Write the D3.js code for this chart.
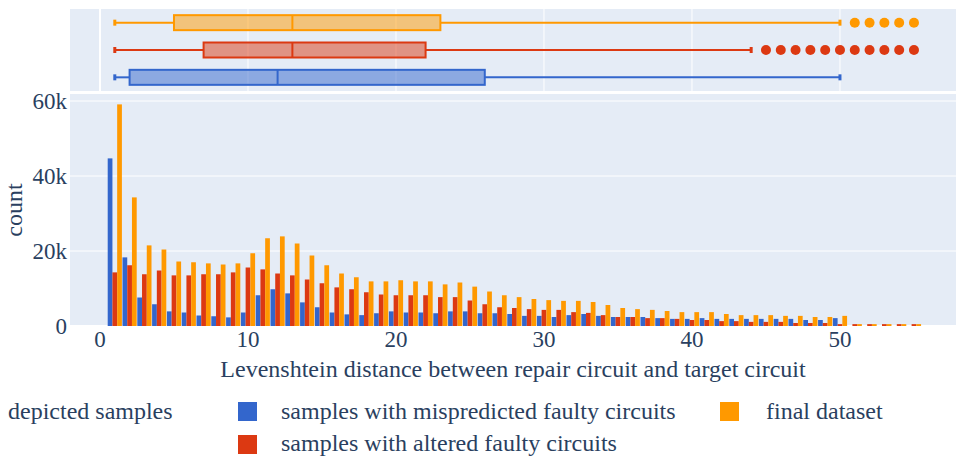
<!DOCTYPE html>
<html><head><meta charset="utf-8">
<script src="https://cdn.jsdelivr.net/npm/d3@7"></script>
<style>body{margin:0;background:#fff}svg{display:block}</style>
</head><body><svg id="c" width="956" height="456"></svg>
<script>
const distances = d3.range(1, 56);
const mispredicted = [44.7,18.3,7.6,5.8,3.9,3.6,2.8,2.6,2.3,3.6,8.2,9.8,8.7,6.3,5.0,3.6,3.1,2.9,3.4,3.9,3.6,3.6,3.4,3.9,3.9,3.4,3.4,3.2,2.7,2.7,2.4,2.9,3.2,2.7,2.4,2.4,2.4,2.1,1.9,1.9,2.1,1.9,1.9,1.9,1.9,1.9,1.9,1.6,1.6,2.1,0,0,0,0,0].map(v=>v*1000);
const altered = [14.3,16.2,13.8,14.8,13.5,13.5,13.8,13.8,14.3,15.6,15.1,14.0,13.5,12.4,11.4,10.3,9.8,9.0,8.4,8.2,8.2,8.2,7.7,7.7,6.8,5.8,5.0,4.8,4.5,4.3,4.3,3.7,3.5,2.9,2.4,2.4,2.1,2.1,1.9,1.6,1.6,1.3,1.3,1.1,1.1,1.1,0.8,0.8,0.8,0.5,0.5,0.5,0.5,0.5,0.5].map(v=>v*1000);
const finalData = [59.1,34.3,21.5,20.4,17.2,17.0,16.7,16.4,16.7,19.4,23.4,23.9,22.0,18.8,16.2,14.0,13.0,11.9,11.9,12.2,11.9,11.9,11.1,11.6,10.5,9.2,8.2,7.7,7.2,6.9,6.7,6.7,6.4,5.6,4.8,4.5,4.3,4.0,3.7,3.7,3.7,3.2,2.9,2.9,2.9,2.7,2.7,2.4,2.4,2.7,0.5,0.5,0.5,0.5,0.5].map(v=>v*1000);
const seriesNames = ["samples with mispredicted faulty circuits","samples with altered faulty circuits","final dataset"];
const seriesColors = ["#3366CC","#DC3912","#FF9900"];
// box stats: [min, q1, median, q3, upperFence], outliers
const boxStats = [[1,2,12,26,50],[1,7,13,22,44],[1,5,13,23,50]];
const boxOutliers = [[],[45,46,47,48,49,50,51,52,53,54,55],[51,52,53,54,55]];
const xTicks = [0,10,20,30,40,50];
const yTicks = [0,20000,40000,60000];
const yTickLabels = ["0","20k","40k","60k"];

const svg = d3.select("#c");
const TXT="#2a3f5f", FONT="Liberation Serif";
const L=70, R=956;
const x = d3.scaleLinear().domain([-2.027, 57.84]).range([L, R]);
const mainTop=94, mainBot=326;
const y = d3.scaleLinear().domain([0, 61870]).range([mainBot, mainTop]);
const boxTop=9, boxBot=91;
const yb = d3.scaleBand().domain([0,1,2]).range([boxBot, boxTop]);

svg.append("rect").attr("x",L).attr("y",mainTop).attr("width",R-L).attr("height",mainBot-mainTop).attr("fill","#E5ECF6");
svg.append("rect").attr("x",L).attr("y",boxTop).attr("width",R-L).attr("height",boxBot-boxTop).attr("fill","#E5ECF6");

yTicks.slice(1).forEach(t=>svg.append("line").attr("x1",L).attr("x2",R).attr("y1",y(t)).attr("y2",y(t)).attr("stroke","#fff").attr("stroke-width",1));
svg.append("line").attr("x1",L).attr("x2",R).attr("y1",y(0)).attr("y2",y(0)).attr("stroke","#fff").attr("stroke-width",2);
xTicks.slice(1).forEach(t=>svg.append("line").attr("x1",x(t)).attr("x2",x(t)).attr("y1",boxTop).attr("y2",boxBot).attr("stroke","#fff").attr("stroke-width",1));
svg.append("line").attr("x1",x(0)).attr("x2",x(0)).attr("y1",boxTop).attr("y2",boxBot).attr("stroke","#fff").attr("stroke-width",2);

const allSeries=[mispredicted,altered,finalData];
const gap=0.3;
allSeries.forEach((arr,si)=>{
  svg.append("g").selectAll("rect").data(distances.map((d,i)=>({d,v:arr[i]})).filter(o=>o.v>0)).join("rect")
    .attr("x",o=>{const a=x(o.d-0.5)+gap, b=x(o.d+0.5)-gap; const w=(b-a)/3; return a+si*w;})
    .attr("width",o=>{const a=x(o.d-0.5)+gap, b=x(o.d+0.5)-gap; return (b-a)/3;})
    .attr("y",o=>y(o.v)).attr("height",o=>y(0)-y(o.v))
    .attr("fill",seriesColors[si]);
});

boxStats.forEach((s,i)=>{
  const c=yb(i)+yb.bandwidth()/2, h=15, col=seriesColors[i];
  const g=svg.append("g");
  g.append("line").attr("x1",x(s[0])).attr("x2",x(s[1])).attr("y1",c).attr("y2",c).attr("stroke",col).attr("stroke-width",2);
  g.append("line").attr("x1",x(s[3])).attr("x2",x(s[4])).attr("y1",c).attr("y2",c).attr("stroke",col).attr("stroke-width",2);
  [s[0],s[4]].forEach(v=>g.append("line").attr("x1",x(v)).attr("x2",x(v)).attr("y1",c-3).attr("y2",c+3).attr("stroke",col).attr("stroke-width",3));
  g.append("rect").attr("x",x(s[1])).attr("y",c-h/2).attr("width",x(s[3])-x(s[1])).attr("height",h)
    .attr("fill",col).attr("fill-opacity",0.5).attr("stroke",col).attr("stroke-width",2);
  g.append("line").attr("x1",x(s[2])).attr("x2",x(s[2])).attr("y1",c-h/2).attr("y2",c+h/2).attr("stroke",col).attr("stroke-width",2);
  g.selectAll("circle").data(boxOutliers[i]).join("circle").attr("cx",v=>x(v)).attr("cy",c).attr("r",5).attr("fill",col);
});

function txt(xx,yy,s,size,anchor){
  return svg.append("text").attr("x",xx).attr("y",yy).attr("font-family",FONT).attr("font-size",size)
    .attr("fill",TXT).attr("text-anchor",anchor||"start").text(s);
}
const fs=23;
yTicks.forEach((t,i)=>txt(67,y(t),yTickLabels[i],fs,"end").attr("dy","0.35em"));
xTicks.forEach(t=>txt(x(t),347,t,fs,"middle"));
txt((L+R)/2,377,"Levenshtein distance between repair circuit and target circuit",24,"middle");
txt(0,0,"count",24,"middle").attr("transform","translate(22,210) rotate(-90)");

txt(8,419,"depicted samples",24);
const legPos=[[238,402,281,419],[238,435,281,451],[720,402,766,419]];
seriesNames.forEach((n,i)=>{
  const p=legPos[i];
  svg.append("rect").attr("x",p[0]).attr("y",p[1]).attr("width",19).attr("height",19).attr("fill",seriesColors[i]);
  txt(p[2],p[3],n,24);
});
</script></body></html>
